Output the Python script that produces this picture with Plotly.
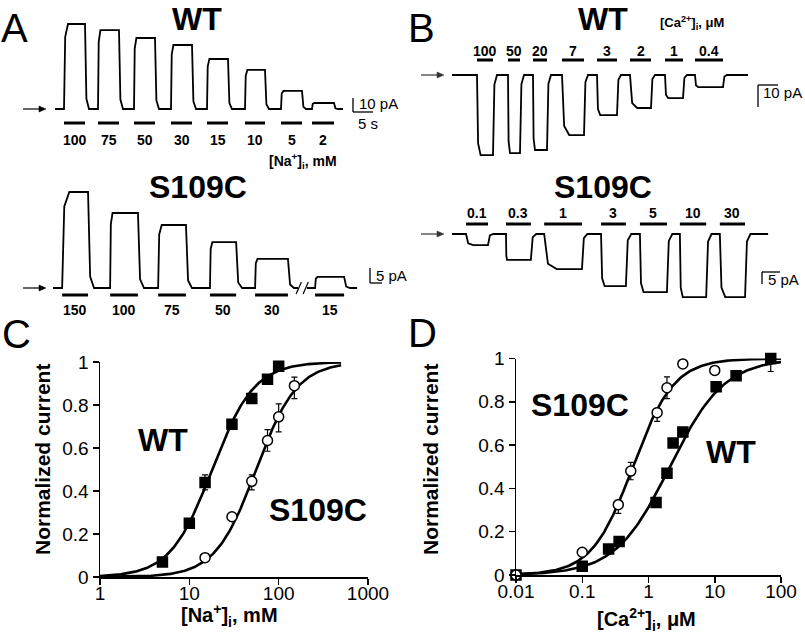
import numpy as np
import plotly.graph_objects as go

W, H = 805, 637
FONT = "Liberation Sans, Arial, Helvetica, sans-serif"

# ---------------- DATA ----------------
# Panel A, WT: [Na+]i steps (mM), application on/off (s), current amplitude (pA)
A_WT_NA_MM = [100, 75, 50, 30, 15, 10, 5, 2]
A_WT_ON_S = [2.25, 10.75, 19.75, 29.0, 38.0, 47.5, 56.5, 64.25]
A_WT_OFF_S = [7.5, 16.0, 25.0, 34.25, 43.25, 52.5, 61.75, 69.75]
A_WT_AMP_PA = [60.7, 56.4, 50.7, 45.7, 35.7, 27.9, 12.9, 4.3]
A_WT_RISE_S = [1.0, 0.6, 0.6, 0.6, 0.6, 0.6, 0.6, 0.6]
A_WT_END_S = 72.0

# Panel A, S109C
A_S_NA_MM = [150, 100, 75, 50, 30, 15]
A_S_ON_S = [3.8, 23.8, 43.8, 65.4, 84.2, 109.2]
A_S_OFF_S = [14.6, 35.4, 55.4, 76.3, 97.9, 121.3]
A_S_AMP_PA = [32.0, 25.0, 21.0, 15.3, 9.7, 3.7]
A_S_RISE_S = [3.0, 1.0, 1.5, 1.0, 1.0, 1.0]
A_S_BREAK_S = [102.1, 105.8]
A_S_END_S = 126.7

# Panel B, WT: [Ca2+]i steps (uM)
B_WT_CA_UM = [100, 50, 20, 7, 3, 2, 1, 0.4]
B_WT_ON_S = [6.25, 14.0, 20.25, 27.5, 36.25, 44.5, 53.25, 60.75]
B_WT_OFF_S = [10.25, 17.0, 23.75, 33.0, 41.25, 49.75, 57.75, 67.75]
B_WT_AMP_PA = [-36.4, -35.5, -34.1, -27.3, -18.2, -15.0, -10.5, -5.5]
B_WT_RISE_S = [0.9, 0.5, 0.5, 1.8, 0.8, 1.8, 0.8, 0.8]
B_WT_END_S = 74.0

# Panel B, S109C
B_S_CA_UM = [0.1, 0.3, 1, 3, 5, 10, 30]
B_S_ON_S = [3.9, 15.0, 25.6, 41.4, 52.2, 63.3, 74.4]
B_S_OFF_S = [10.0, 21.9, 36.1, 48.3, 59.7, 70.6, 81.4]
B_S_AMP_PA = [-4.6, -10.8, -14.6, -21.7, -24.2, -26.3, -26.3]
B_S_RISE_S = [2.0, 0.3, 3.5, 1.0, 1.0, 0.8, 1.5]
B_S_END_S = 87.8

# Panel C: normalized current vs [Na+]i (mM)
C_NA_WT = [5, 10, 15, 30, 50, 75, 100]
C_WT = [0.07, 0.25, 0.44, 0.71, 0.83, 0.92, 0.98]
C_WT_ERR_PLUS = [0, 0, 0.035, 0, 0, 0, 0]
C_WT_ERR_MINUS = [0, 0, 0.035, 0, 0, 0, 0]
C_NA_S = [15, 30, 50, 75, 100, 150]
C_S = [0.09, 0.28, 0.445, 0.635, 0.745, 0.89]
C_S_ERR_PLUS = [0, 0, 0.03, 0.05, 0.06, 0.04]
C_S_ERR_MINUS = [0, 0, 0.04, 0.05, 0.07, 0.06]
C_FIT_WT = dict(K=18.0, n=1.85)
C_FIT_S = dict(K=56.0, n=1.9)
C_FIT_RANGE = [1, 500]

# Panel D: normalized current vs [Ca2+]i (uM)
D_CA_WT = [0.01, 0.1, 0.25, 0.36, 1.3, 1.9, 2.35, 3.3, 10.5, 21, 70]
D_WT = [0.0, 0.04, 0.12, 0.155, 0.335, 0.47, 0.61, 0.66, 0.87, 0.92, 1.0]
D_WT_ERR_PLUS = [0, 0, 0, 0, 0, 0, 0, 0, 0, 0, 0.0]
D_WT_ERR_MINUS = [0, 0, 0, 0, 0, 0, 0, 0, 0, 0, 0.06]
D_CA_S = [0.01, 0.1, 0.35, 0.54, 1.35, 1.9, 3.3, 10]
D_S = [0.0, 0.105, 0.325, 0.48, 0.75, 0.865, 0.975, 0.945]
D_S_ERR_PLUS = [0, 0, 0.02, 0.04, 0.02, 0.05, 0, 0]
D_S_ERR_MINUS = [0, 0, 0.04, 0.04, 0.04, 0.05, 0, 0]
D_FIT_WT = dict(K=2.1, n=1.06)
D_FIT_S = dict(K=0.58, n=1.4)
D_FIT_RANGE = [0.01, 120]

C_XTICKS = [1, 10, 100, 1000]
D_XTICKS = [0.01, 0.1, 1, 10, 100]
Y_TICKS = [0, 0.2, 0.4, 0.6, 0.8, 1]

# ---------------- LAYOUT HELPERS ----------------
def fx(px):
    return px / W


def fy(py):
    return 1 - py / H


# trace panels: pixel box (l, r, t, b), px of t=0, px per s, baseline py, px per pA
PANELS = {
    1: dict(box=(0, 400, 0, 170), t0=55, sx=4.0, base=109, sy=1.4),
    2: dict(box=(0, 400, 170, 330), t0=53, sx=2.4, base=288, sy=3.0),
    3: dict(box=(400, 805, 0, 170), t0=452, sx=4.0, base=75, sy=2.2),
    4: dict(box=(400, 805, 170, 330), t0=452, sx=3.6, base=234, sy=2.4),
}


def tx(i, px):
    p = PANELS[i]
    return (px - p["t0"]) / p["sx"]


def ty(i, py):
    p = PANELS[i]
    return (p["base"] - py) / p["sy"]


def trace_path(on, off, amp, rise, fall, t_end, gap=None):
    t, y = [0.0], [0.0]
    for a, b, A, r in zip(on, off, amp, rise):
        if gap is not None and t[-1] < gap[0] < a:
            t += [gap[0], None, gap[1]]
            y += [0, None, 0]
        t += [a, a + 0.3 * r, a + r, b, b + 0.35 * fall, b + fall]
        y += [0, 0.85 * A, A, A, 0.12 * A, 0]
    t.append(t_end)
    y.append(0)
    return t, y


def hill(x, K, n):
    x = np.asarray(x, dtype=float)
    return x ** n / (x ** n + K ** n)


fig = go.Figure()
shapes = []
ann = []

# ---------------- TRACE PANELS ----------------
trace_sets = [
    (1, A_WT_NA_MM, A_WT_ON_S, A_WT_OFF_S, A_WT_AMP_PA, A_WT_RISE_S, 1.0, A_WT_END_S, None, 123, 140),
    (2, A_S_NA_MM, A_S_ON_S, A_S_OFF_S, A_S_AMP_PA, A_S_RISE_S, 2.5, A_S_END_S, A_S_BREAK_S, 295, 310),
    (3, B_WT_CA_UM, B_WT_ON_S, B_WT_OFF_S, B_WT_AMP_PA, B_WT_RISE_S, 1.0, B_WT_END_S, None, 60, 51),
    (4, B_S_CA_UM, B_S_ON_S, B_S_OFF_S, B_S_AMP_PA, B_S_RISE_S, 1.5, B_S_END_S, None, 224, 213),
]

for (i, conc, on, off, amp, rise, fall, tend, gap, bar_py, lab_py) in trace_sets:
    t, y = trace_path(on, off, amp, rise, fall, tend, gap)
    xa = "x" if i == 1 else f"x{i}"
    ya = "y" if i == 1 else f"y{i}"
    fig.add_trace(go.Scatter(x=t, y=y, mode="lines", xaxis=xa, yaxis=ya,
                             line=dict(color="black", width=1.8),
                             hoverinfo="skip", showlegend=False))
    for a, b, c in zip(on, off, conc):
        shapes.append(dict(type="line", xref=xa, yref="paper", x0=a, x1=b,
                           y0=fy(bar_py), y1=fy(bar_py),
                           line=dict(color="black", width=3)))
        ann.append(dict(xref=xa, yref="paper", x=(a + b) / 2, y=fy(lab_py),
                        text=f"<b>{c:g}</b>", showarrow=False,
                        font=dict(size=14, family=FONT, color="black"),
                        xanchor="center", yanchor="middle"))

# break marks in A S109C
for xs in (A_S_BREAK_S[0] - 0.8, A_S_BREAK_S[1] - 1.6):
    shapes.append(dict(type="line", xref="x2", yref="y2", x0=xs, x1=xs + 2.2,
                       y0=ty(2, 294), y1=ty(2, 282),
                       line=dict(color="black", width=1.2)))

# scale bars
def lbar(i, px, py_corner, pa, sec, up):
    xa = "x" if i == 1 else f"x{i}"
    ya = "y" if i == 1 else f"y{i}"
    t0 = tx(i, px)
    y0 = ty(i, py_corner)
    y1 = y0 + pa if up else y0 - pa
    shapes.append(dict(type="line", xref=xa, yref=ya, x0=t0, x1=t0, y0=y0, y1=y1,
                       line=dict(color="black", width=1.3)))
    shapes.append(dict(type="line", xref=xa, yref=ya, x0=t0, x1=t0 + sec, y0=y0, y1=y0,
                       line=dict(color="black", width=1.3)))


lbar(1, 353, 112, 10, 5, True)
lbar(2, 370, 283, 5, 5, True)
lbar(3, 758, 85, 10, 5, False)
lbar(4, 762, 272, 5, 5, False)

# baseline arrows (line + filled head)
for (x_tip, y_px, col) in [(46, 109, "black"), (46, 288, "black"),
                           (444, 75, "#333333"), (444, 234, "#333333")]:
    shapes.append(dict(type="line", xref="paper", yref="paper",
                       x0=fx(x_tip - 23), x1=fx(x_tip - 5), y0=fy(y_px), y1=fy(y_px),
                       line=dict(color=col, width=1.2)))
    shapes.append(dict(type="path", xref="paper", yref="paper",
                       path=(f"M {fx(x_tip)} {fy(y_px)} L {fx(x_tip - 7)} {fy(y_px - 3)} "
                             f"L {fx(x_tip - 7)} {fy(y_px + 3)} Z"),
                       fillcolor=col, line=dict(color=col, width=0.5)))

for i, p in PANELS.items():
    l, r, t, b = p["box"]
    xk = "xaxis" if i == 1 else f"xaxis{i}"
    yk = "yaxis" if i == 1 else f"yaxis{i}"
    fig.layout[xk] = dict(domain=[fx(l), fx(r)], range=[tx(i, l), tx(i, r)],
                          visible=False, anchor="y" if i == 1 else f"y{i}")
    fig.layout[yk] = dict(domain=[fy(b), fy(t)], range=[ty(i, b), ty(i, t)],
                          visible=False, anchor="x" if i == 1 else f"x{i}")

# ---------------- DOSE-RESPONSE PANELS ----------------
def dose_points(xa, ya, xs, ys, ep, em, symbol, fill):
    fig.add_trace(go.Scatter(
        x=xs, y=ys, mode="markers", xaxis=xa, yaxis=ya, cliponaxis=False,
        marker=dict(symbol=symbol, size=10, color=fill,
                    line=dict(color="black", width=1.5)),
        error_y=dict(type="data", symmetric=False, array=ep, arrayminus=em,
                     color="black", thickness=1.2, width=3),
        hoverinfo="skip", showlegend=False))


def fit_line(xa, ya, rng, fit):
    xx = np.logspace(np.log10(rng[0]), np.log10(rng[1]), 200)
    fig.add_trace(go.Scatter(x=xx, y=hill(xx, **fit), mode="lines", xaxis=xa, yaxis=ya,
                             cliponaxis=False, line=dict(color="black", width=2.6),
                             hoverinfo="skip", showlegend=False))


fit_line("x5", "y5", C_FIT_RANGE, C_FIT_WT)
fit_line("x5", "y5", C_FIT_RANGE, C_FIT_S)
dose_points("x5", "y5", C_NA_WT, C_WT, C_WT_ERR_PLUS, C_WT_ERR_MINUS, "square", "black")
dose_points("x5", "y5", C_NA_S, C_S, C_S_ERR_PLUS, C_S_ERR_MINUS, "circle", "white")

fit_line("x6", "y6", D_FIT_RANGE, D_FIT_WT)
fit_line("x6", "y6", D_FIT_RANGE, D_FIT_S)
dose_points("x6", "y6", D_CA_WT, D_WT, D_WT_ERR_PLUS, D_WT_ERR_MINUS, "square", "black")
dose_points("x6", "y6", D_CA_S, D_S, D_S_ERR_PLUS, D_S_ERR_MINUS, "circle", "white")

tickfont = dict(size=19, family=FONT, color="black")
common_x = dict(type="log", showgrid=False, zeroline=False, showline=True, linecolor="black",
                linewidth=1.5, ticks="outside", ticklen=6, tickwidth=1.5, tickcolor="black",
                tickfont=tickfont, automargin=False, ticklabelstandoff=-7)
common_y = dict(showgrid=False, zeroline=False, showline=True, linecolor="black",
                linewidth=1.5, ticks="outside", ticklen=6, tickwidth=1.5, tickcolor="black",
                tickfont=tickfont, range=[0, 1], tickvals=Y_TICKS, automargin=False,
                ticktext=[f"{v:g}" for v in Y_TICKS])

fig.layout["xaxis5"] = dict(common_x, domain=[fx(100), fx(368)], range=[0, 3], anchor="y5",
                            tickvals=C_XTICKS, ticktext=[f"{v:g}" for v in C_XTICKS])
fig.layout["yaxis5"] = dict(common_y, domain=[fy(577), fy(362)], anchor="x5")
fig.layout["xaxis6"] = dict(common_x, domain=[fx(516), fx(781)], range=[-2, 2], anchor="y6",
                            tickvals=D_XTICKS, ticktext=[f"{v:g}" for v in D_XTICKS])
fig.layout["yaxis6"] = dict(common_y, domain=[fy(575), fy(358.5)], anchor="x6")

# ---------------- TEXT ----------------
def txt(x, y, s, size, bold=False, anchor="center", angle=0):
    ann.append(dict(xref="paper", yref="paper", x=fx(x), y=fy(y),
                    text=f"<b>{s}</b>" if bold else s, showarrow=False, textangle=angle,
                    font=dict(size=size, family=FONT, color="black"),
                    xanchor=anchor, yanchor="middle"))


txt(14, 28, "A", 40)
txt(421, 28, "B", 40)
txt(16, 334, "C", 40)
txt(422, 333, "D", 40)

txt(197, 19, "WT", 32, True)
txt(198, 187, "S109C", 32, True)
txt(603, 19, "WT", 32, True)
txt(603, 187, "S109C", 32, True)

txt(303, 161, "[Na<sup>+</sup>]<sub>i</sub>, mM", 14, True)
txt(692, 23, "[Ca<sup>2+</sup>]<sub>i</sub>, μM", 13, True)

txt(357, 103, "10 pA", 15, anchor="left")
txt(356, 123, "5 s", 15, anchor="left")
txt(374, 275, "5 pA", 15, anchor="left")
txt(761, 93, "10 pA", 15, anchor="left")
txt(766, 279, "5 pA", 15, anchor="left")

txt(163, 440, "WT", 32, True)
txt(318, 510, "S109C", 32, True)
txt(580, 405, "S109C", 32, True)
txt(731, 452, "WT", 32, True)

txt(42, 460, "Normalized current", 21, True, angle=-90)
txt(430, 460, "Normalized current", 21, True, angle=-90)
txt(229, 615, "[Na<sup>+</sup>]<sub>i</sub>, mM", 20, True)
txt(646, 619, "[Ca<sup>2+</sup>]<sub>i</sub>, μM", 20, True)

fig.update_layout(width=W, height=H, autosize=False,
                  margin=dict(l=0, r=0, t=0, b=0, pad=0, autoexpand=False),
                  paper_bgcolor="white", plot_bgcolor="rgba(0,0,0,0)",
                  showlegend=False, shapes=shapes, annotations=ann,
                  font=dict(family=FONT, color="black"))

fig.write_html(
    "out.html",
    config={"displayModeBar": False, "staticPlot": True},
    post_script=("document.body.style.margin='0px';"
                 "document.body.style.padding='0px';"
                 "document.body.style.overflow='hidden';"),
)
